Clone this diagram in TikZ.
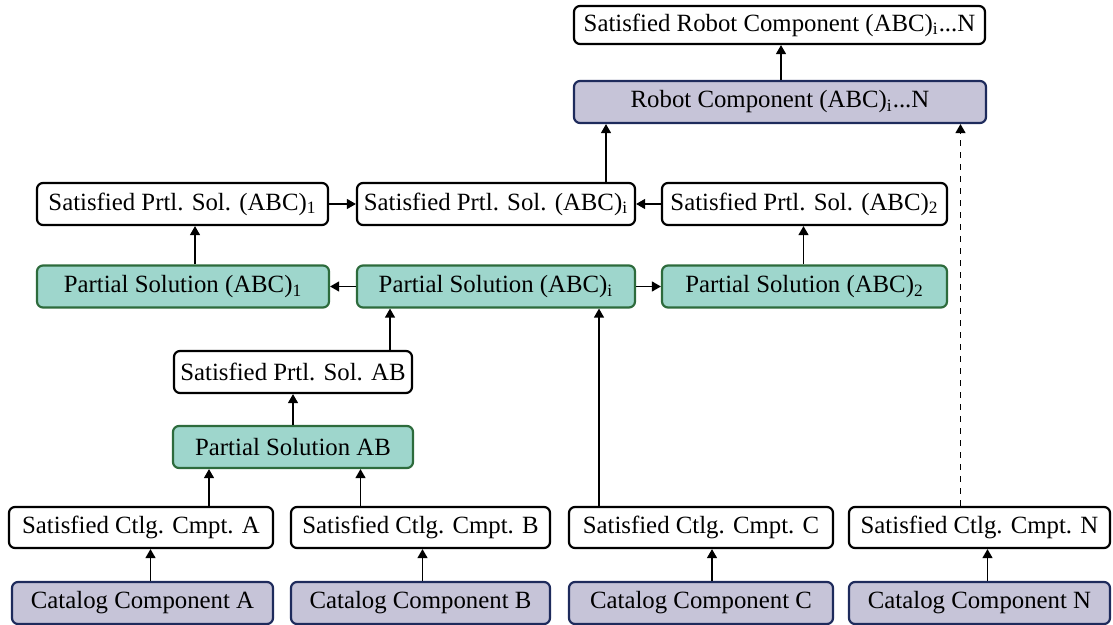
\documentclass[tikz,border=0pt]{standalone}
\usepackage{fontspec}
\setmainfont{Liberation Serif}
\usetikzlibrary{arrows.meta}

\definecolor{psfill}{HTML}{9ED6CC}
\definecolor{psdraw}{HTML}{2D6B3C}
\definecolor{catfill}{HTML}{C6C4D8}
\definecolor{catdraw}{HTML}{1E2B5C}

\tikzset{
  box/.style={rounded corners=3pt, line width=1.1pt, minimum height=21pt,
    inner sep=0pt, font=\fontsize{12.4}{14}\selectfont},
  satbox/.style={box, draw=black, fill=white},
  partbox/.style={box, draw=psdraw, fill=psfill},
  catbox/.style={box, draw=catdraw, fill=catfill},
  arr/.style={line width=0.65pt, -{Triangle[length=4.5pt,width=5pt]}},
}

\begin{document}
\begin{tikzpicture}[x=0.5pt, y=-0.5pt]
  \useasboundingbox (0,0) rectangle (1113,625);

  % robot component on top
  \node[satbox, minimum width=205.5pt, minimum height=19pt] (satrobot) at (779.5,25) {Satisfied Robot Component (ABC)\textsubscript{i}...N};
  \node[catbox, minimum width=206pt] (robot) at (780,102) {Robot Component (ABC)\textsubscript{i}...N};

  % partial solutions of ABC
  \node[satbox, minimum width=145.5pt] (sp1) at (182.5,204) {Satisfied Prtl. Sol. (ABC)\textsubscript{1}};
  \node[satbox, minimum width=139pt] (spi) at (496,204) {Satisfied Prtl. Sol. (ABC)\textsubscript{i}};
  \node[satbox, minimum width=142.5pt] (sp2) at (804.5,204) {Satisfied Prtl. Sol. (ABC)\textsubscript{2}};
  \node[partbox, minimum width=146pt] (ps1) at (183,286.5) {Partial Solution (ABC)\textsubscript{1}};
  \node[partbox, minimum width=139pt] (psi) at (496,286.5) {Partial Solution (ABC)\textsubscript{i}};
  \node[partbox, minimum width=142.5pt] (ps2) at (804.5,286.5) {Partial Solution (ABC)\textsubscript{2}};

  % partial solution of AB
  \node[satbox, minimum width=119pt] (spab) at (293,372) {Satisfied Prtl. Sol. AB};
  \node[partbox, minimum width=120pt] (psab) at (293,447) {Partial Solution AB};

  % catalog components
  \node[satbox, minimum width=132pt, minimum height=20.5pt] (scA) at (141,527.5) {Satisfied Ctlg. Cmpt. A};
  \node[satbox, minimum width=129.5pt, minimum height=20.5pt] (scB) at (420.5,527.5) {Satisfied Ctlg. Cmpt. B};
  \node[satbox, minimum width=132pt, minimum height=20.5pt] (scC) at (701,527.5) {Satisfied Ctlg. Cmpt. C};
  \node[satbox, minimum width=130.5pt, minimum height=20.5pt] (scN) at (979.5,527.5) {Satisfied Ctlg. Cmpt. N};
  \node[catbox, minimum width=130.5pt] (catA) at (142.5,603) {Catalog Component A};
  \node[catbox, minimum width=129.5pt] (catB) at (420.5,603) {Catalog Component B};
  \node[catbox, minimum width=132pt] (catC) at (701,603) {Catalog Component C};
  \node[catbox, minimum width=130.5pt] (catN) at (979.5,603) {Catalog Component N};

  % catalog -> satisfied
  \draw[arr] ([xshift=4pt]catA.north) -- ([xshift=4pt]catA.north |- scA.south);
  \draw[arr] ([xshift=1pt]catB.north) -- ([xshift=1pt]catB.north |- scB.south);
  \draw[arr] ([xshift=5.5pt]catC.north) -- ([xshift=5.5pt]catC.north |- scC.south);
  \draw[arr] ([xshift=4pt]catN.north) -- ([xshift=4pt]catN.north |- scN.south);

  % AB branch
  \draw[arr] ([xshift=34pt]scA.north) -- ([xshift=34pt]scA.north |- psab.south);
  \draw[arr] ([xshift=-30pt]scB.north) -- ([xshift=-30pt]scB.north |- psab.south);
  \draw[arr] (psab.north) -- (psab.north |- spab.south);
  \draw[arr] ([xshift=48.5pt]spab.north) -- ([xshift=48.5pt]spab.north |- psi.south);
  \draw[arr] ([xshift=-51pt]scC.north) -- ([xshift=-51pt]scC.north |- psi.south);

  % ABC partial solutions
  \draw[arr] (psi.west) -- (ps1.east);
  \draw[arr] (psi.east) -- (ps2.west);
  \draw[arr] ([xshift=6pt]ps1.north) -- ([xshift=6pt]ps1.north |- sp1.south);
  \draw[arr] ([xshift=-0.5pt]ps2.north) -- ([xshift=-0.5pt]ps2.north |- sp2.south);
  \draw[arr] (sp1.east) -- (spi.west);
  \draw[arr] (sp2.west) -- (spi.east);

  % up to the robot component
  \draw[arr] ([xshift=55pt]spi.north) -- ([xshift=55pt]spi.north |- robot.south);
  \draw[arr, dashed] ([xshift=-9.5pt]scN.north) -- ([xshift=-9.5pt]scN.north |- robot.south);
  \draw[arr] ([xshift=0.5pt]robot.north) -- ([xshift=0.5pt]robot.north |- satrobot.south);
\end{tikzpicture}
\end{document}
